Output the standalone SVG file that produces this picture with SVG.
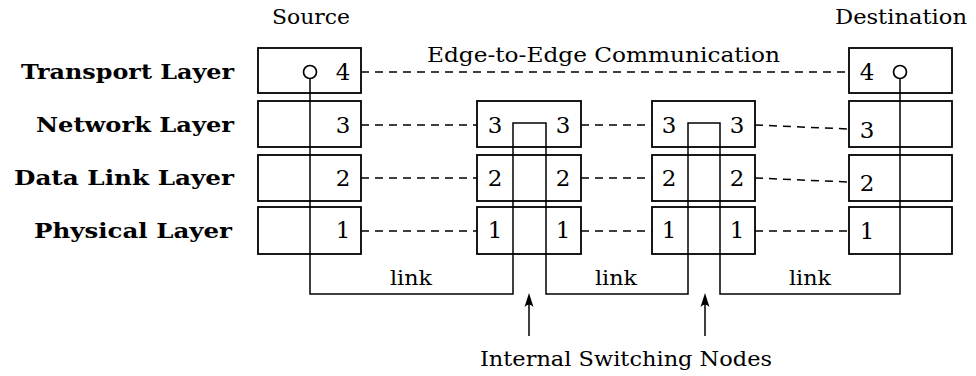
<svg xmlns="http://www.w3.org/2000/svg" width="976" height="376" viewBox="0 0 976 376">
  <defs>
    <style>
      .box { fill: #fff; stroke: #000; stroke-width: 1.8; }
      .wire { fill: none; stroke: #000; stroke-width: 1.5; }
      .dash { fill: none; stroke: #000; stroke-width: 1.5; stroke-dasharray: 8 6; }
      .hole { fill: #fff; stroke: #000; stroke-width: 1.7; }
      .head { fill: #000; stroke: none; }
      .layer { font-family: "DejaVu Serif", "Liberation Serif", serif; font-weight: 700; font-size: 20.5px; text-anchor: end; }
      .lbl { font-family: "DejaVu Serif", "Liberation Serif", serif; font-weight: 400; font-size: 21px; }
      .num { font-family: "DejaVu Serif", "Liberation Serif", serif; font-weight: 400; font-size: 23px; text-anchor: middle; }
    </style>
  </defs>
  <rect width="976" height="376" fill="#fff"/>

  <!-- layer names -->
  <g id="layer-labels">
    <text class="layer" x="234" y="79" textLength="213" lengthAdjust="spacingAndGlyphs">Transport Layer</text>
    <text class="layer" x="234" y="132" textLength="198" lengthAdjust="spacingAndGlyphs">Network Layer</text>
    <text class="layer" x="234" y="185" textLength="220" lengthAdjust="spacingAndGlyphs">Data Link Layer</text>
    <text class="layer" x="232" y="238" textLength="198" lengthAdjust="spacingAndGlyphs">Physical Layer</text>
  </g>

  <!-- source host -->
  <g id="source">
    <text class="lbl" x="272" y="24" textLength="78" lengthAdjust="spacingAndGlyphs">Source</text>
    <rect class="box" x="258" y="48" width="103" height="45"/>
    <rect class="box" x="258" y="101" width="103" height="46"/>
    <rect class="box" x="258" y="155" width="103" height="46"/>
    <rect class="box" x="258" y="207" width="103" height="47"/>
    <text class="num" x="343" y="80">4</text>
    <text class="num" x="343" y="133">3</text>
    <text class="num" x="343" y="186">2</text>
    <text class="num" x="343" y="238">1</text>
  </g>

  <!-- first switching node -->
  <g id="switch-1">
    <rect class="box" x="477" y="101" width="104" height="46"/>
    <rect class="box" x="477" y="155" width="104" height="46"/>
    <rect class="box" x="477" y="207" width="104" height="47"/>
    <text class="num" x="495" y="133">3</text>
    <text class="num" x="563" y="133">3</text>
    <text class="num" x="495" y="186">2</text>
    <text class="num" x="563" y="186">2</text>
    <text class="num" x="495" y="238">1</text>
    <text class="num" x="563" y="238">1</text>
  </g>

  <!-- second switching node -->
  <g id="switch-2">
    <rect class="box" x="652" y="101" width="103" height="46"/>
    <rect class="box" x="652" y="155" width="103" height="46"/>
    <rect class="box" x="652" y="207" width="103" height="47"/>
    <text class="num" x="669" y="133">3</text>
    <text class="num" x="737" y="133">3</text>
    <text class="num" x="669" y="186">2</text>
    <text class="num" x="737" y="186">2</text>
    <text class="num" x="669" y="238">1</text>
    <text class="num" x="737" y="238">1</text>
  </g>

  <!-- destination host -->
  <g id="destination">
    <text class="lbl" x="835" y="24" textLength="132" lengthAdjust="spacingAndGlyphs">Destination</text>
    <rect class="box" x="849" y="48" width="103" height="45"/>
    <rect class="box" x="849" y="101" width="103" height="46"/>
    <rect class="box" x="849" y="155" width="103" height="46"/>
    <rect class="box" x="849" y="207" width="103" height="47"/>
    <text class="num" x="867" y="80">4</text>
    <text class="num" x="867" y="138">3</text>
    <text class="num" x="867" y="191">2</text>
    <text class="num" x="867" y="239">1</text>
  </g>

  <g id="connectors">
    <!-- physical path through the network -->
    <path class="wire" d="M310 78 V294 H513 V123 H546 V294 H688 V123 H720 V294 H900 V78"/>
    <circle class="hole" cx="310" cy="72" r="6.5"/>
    <circle class="hole" cx="900" cy="72" r="6.5"/>

    <!-- peer-to-peer dashed links -->
    <path class="dash" d="M361 72 H849"/>
    <path class="dash" d="M361 125 H477"/>
    <path class="dash" d="M361 178 H477"/>
    <path class="dash" d="M361 231 H477"/>
    <path class="dash" d="M581 125 H652"/>
    <path class="dash" d="M581 178 H652"/>
    <path class="dash" d="M581 231 H652"/>
    <path class="dash" d="M755 125 L849 129"/>
    <path class="dash" d="M755 178 L849 182"/>
    <path class="dash" d="M755 231 H849"/>

    <!-- pointers to the switching nodes -->
    <path class="wire" d="M529 336 V300"/>
    <path class="head" d="M529 293 L533.5 307 Q529 302 524.5 307 Z"/>
    <path class="wire" d="M705 336 V300"/>
    <path class="head" d="M705 293 L709.5 307 Q705 302 700.5 307 Z"/>
  </g>

  <g id="annotations">
    <text class="lbl" x="427" y="62" textLength="353" lengthAdjust="spacingAndGlyphs">Edge-to-Edge Communication</text>
    <text class="lbl" x="411" y="285" text-anchor="middle" textLength="42" lengthAdjust="spacingAndGlyphs">link</text>
    <text class="lbl" x="616" y="285" text-anchor="middle" textLength="42" lengthAdjust="spacingAndGlyphs">link</text>
    <text class="lbl" x="810" y="285" text-anchor="middle" textLength="42" lengthAdjust="spacingAndGlyphs">link</text>
    <text class="lbl" x="480" y="366" textLength="292" lengthAdjust="spacingAndGlyphs">Internal Switching Nodes</text>
  </g>
</svg>
